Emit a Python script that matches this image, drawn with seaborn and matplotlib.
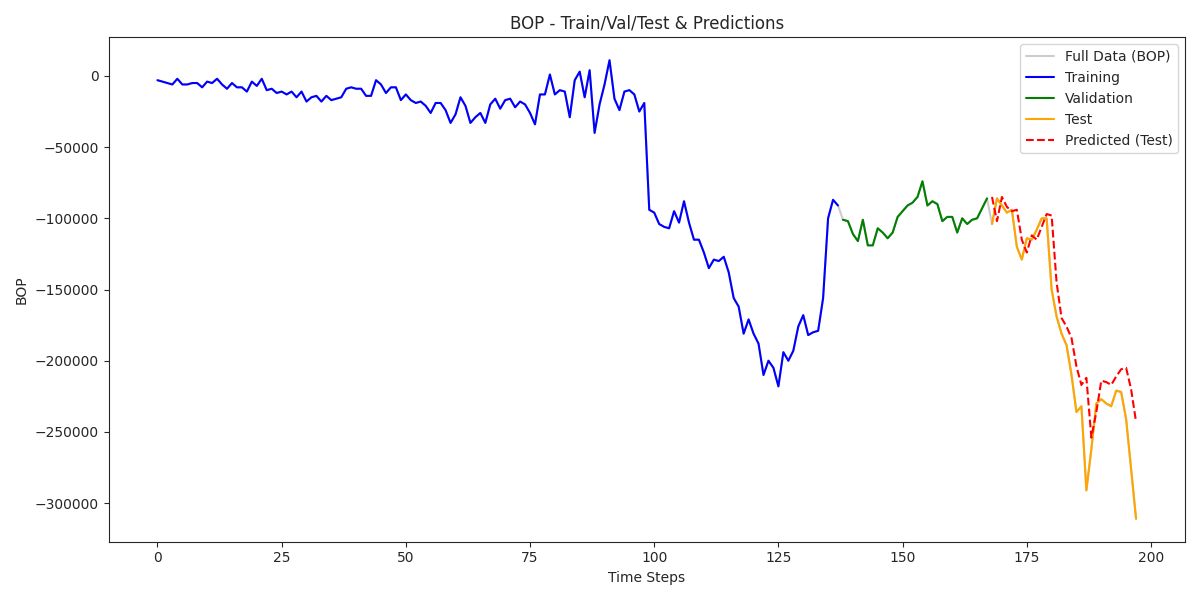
import numpy as np
import matplotlib
matplotlib.use("Agg")
import matplotlib.pyplot as plt
import seaborn as sns

# values in thousands
train_k = [-3, -4, -5, -6, -2, -6, -6, -5, -5, -8, -4, -5, -2, -6, -9, -5, -8, -8, -11, -4,
	-7, -2, -10, -9, -12, -11, -13, -11, -15, -11, -18, -15, -14, -18, -14, -17, -16, -15, -9, -8,
	-9, -9, -14, -14, -3, -6, -12, -8, -8, -17, -13, -17, -19, -18, -21, -26, -19, -19, -24, -33,
	-27, -15, -21, -33, -29, -26, -33, -20, -16, -23, -17, -16, -22, -18, -20, -26, -34, -13, -13, 1,
	-13, -10, -11, -29, -3, 3, -15, 4, -40, -20, -6, 11, -16, -24, -11, -10, -13, -25, -19, -94,
	-96, -104, -106, -107, -95, -103, -88, -103, -115, -115, -124, -135, -129, -130, -127, -138, -156, -162, -181, -171,
	-181, -188, -210, -200, -205, -218, -194, -200, -193, -176, -168, -182, -180, -179, -156, -100, -87, -91]
val_k = [-101, -102, -111, -116, -101, -119, -119, -107, -110, -114, -110, -99, -95, -91, -89,
	-85, -74, -91, -88, -90, -102, -99, -99, -110, -100, -104, -101, -100, -93, -86]
test_k = [-104, -86, -91, -96, -94, -120, -129, -114, -115, -108, -100, -100, -150, -169, -181,
	-189, -210, -236, -232, -291, -262, -230, -227, -230, -232, -221, -222, -241, -276, -311]
pred_k = [-85, -102, -85, -92, -95, -94, -115, -124, -112, -115, -106, -97, -98, -145, -170,
	-176, -184, -204, -217, -212, -254, -236, -214, -215, -217, -211, -206, -205, -220, -243]

train = np.array(train_k) * 1000
val = np.array(val_k) * 1000
test = np.array(test_k) * 1000
pred = np.array(pred_k) * 1000
full = np.concatenate([train, val, test])

n_tr, n_va = len(train), len(val)
t_full = np.arange(len(full))
t_train = t_full[:n_tr]
t_val = t_full[n_tr:n_tr + n_va]
t_test = t_full[n_tr + n_va:]

sns.set_style("ticks")
fig, ax = plt.subplots(figsize=(12, 6), dpi=100)
sns.lineplot(x=t_full, y=full, color="gray", alpha=0.4, label="Full Data (BOP)", ax=ax)
sns.lineplot(x=t_train, y=train, color="blue", label="Training", ax=ax)
sns.lineplot(x=t_val, y=val, color="green", label="Validation", ax=ax)
sns.lineplot(x=t_test, y=test, color="orange", label="Test", ax=ax)
sns.lineplot(x=t_test, y=pred, color="red", linestyle="--", label="Predicted (Test)", ax=ax)
ax.set(xlabel="Time Steps", ylabel="BOP", title="BOP - Train/Val/Test & Predictions")
ax.legend(loc="upper right")
fig.tight_layout()
fig.savefig("out.png")
